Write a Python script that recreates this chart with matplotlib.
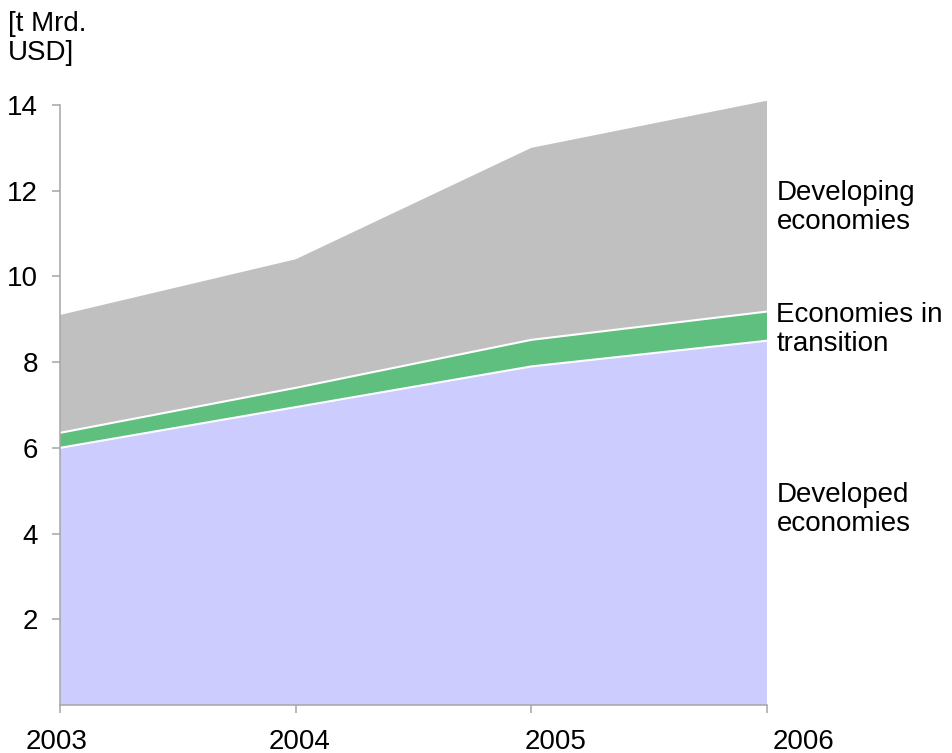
import numpy as np
import matplotlib.pyplot as plt
from matplotlib.transforms import ScaledTranslation

plt.rcParams['font.family'] = ['Liberation Sans', 'DejaVu Sans']

# data, t Mrd. USD
years = [2003, 2004, 2005, 2006]
developed = [6.0, 6.95, 7.9, 8.5]
transition = [0.35, 0.45, 0.62, 0.68]
developing = [2.75, 3.0, 4.48, 4.92]

names = ['Developed\neconomies', 'Economies in\ntransition', 'Developing\neconomies']
colors = ['#CCCCFF', '#5EBF7F', '#C0C0C0']
name_y = [4.55, 8.75, 11.6]

yticks = [2, 4, 6, 8, 10, 12, 14]

fig = plt.figure(figsize=(9.53, 7.53), dpi=100)
ax = fig.add_axes([60/953, 1-705/753, (767-60)/953, (705-100.7)/753])

ax.stackplot(years, developed, transition, developing, colors=colors, linewidth=0)

# white separators between the bands
c1 = np.array(developed)
c2 = c1 + np.array(transition)
ax.plot(years, c1, color='white', lw=1.5)
ax.plot(years, c2, color='white', lw=1.5)

ax.set_xlim(years[0], years[-1])
ax.set_ylim(0, 14.1)
ax.set_xticks(years)
ax.set_xticklabels([str(y) for y in years])
ax.set_yticks(yticks)

for s in ['top', 'right']:
    ax.spines[s].set_visible(False)
for s in ['left', 'bottom']:
    ax.spines[s].set_color('#A6A6A6')
    ax.spines[s].set_linewidth(1.1)
ax.spines['left'].set_bounds(0, 14)

ax.tick_params(axis='both', colors='#A6A6A6', labelcolor='black', labelsize=20,
               length=6, width=1.1)
ax.tick_params(axis='y', pad=10)
ax.tick_params(axis='x', pad=11)

# the category labels sit a bit off their ticks in the original
shifts = [-3, 4, 24, 36]
for lab, dx in zip(ax.get_xticklabels(), shifts):
    lab.set_transform(lab.get_transform() + ScaledTranslation(dx/100, 0, fig.dpi_scale_trans))

for n, y in zip(names, name_y):
    ax.text(years[-1] + 0.04, y, n, fontsize=20, va='center', ha='left',
            linespacing=1.15, clip_on=False)

fig.text(8/953, 1-11/753, '[t Mrd.\nUSD]', fontsize=20, va='top', ha='left', linespacing=1.15)

fig.savefig('out.png', dpi=100)
